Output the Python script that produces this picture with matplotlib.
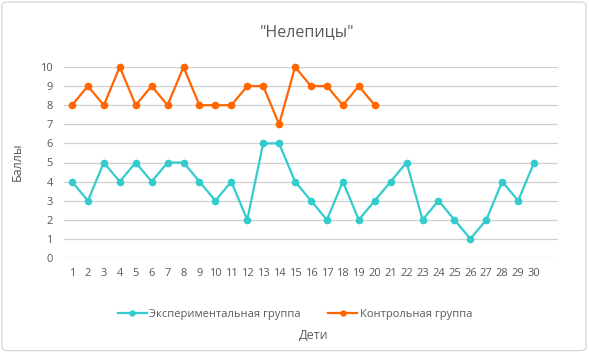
import numpy as np
import matplotlib
matplotlib.use("Agg")
import matplotlib.pyplot as plt
from matplotlib.patches import FancyBboxPatch

plt.rcParams['font.family'] = ['Open Sans', 'DejaVu Sans']

children = list(range(1, 31))
exp_group = [4, 3, 5, 4, 5, 4, 5, 5, 4, 3, 4, 2, 6, 6, 4, 3, 2, 4, 2, 3,
             4, 5, 2, 3, 2, 1, 2, 4, 3, 5]
ctrl_children = list(range(1, 21))
ctrl_group = [8, 9, 8, 10, 8, 9, 8, 10, 8, 8, 8, 9, 9, 7, 10, 9, 9, 8, 9, 8]
yticks = list(range(0, 11))

teal = '#33CCCC'
orange = '#FF6600'
text_col = '#595959'

fig = plt.figure(figsize=(5.89, 3.52), dpi=100)
ax = fig.add_axes([64/589, 1 - 258/352, 494/589, 191/352])

ax.plot(children, exp_group, color=teal, lw=1.6, marker='o', ms=4.5,
        label='Экспериментальная группа', clip_on=False)
ax.plot(ctrl_children, ctrl_group, color=orange, lw=1.6, marker='o', ms=4.5,
        label='Контрольная группа', clip_on=False)

ax.set_xlim(0.5, 31.5)
ax.set_ylim(0, 10)
ax.set_yticks(yticks)
ax.set_xticks(children)
ax.tick_params(length=0, labelsize=8, labelcolor=text_col)
ax.tick_params(axis='x', pad=7)
ax.tick_params(axis='y', pad=8)
ax.grid(axis='y', color='#D0D0D0', lw=0.9)
ax.set_axisbelow(True)
for s in ax.spines.values():
    s.set_visible(False)

fig.text(307/589, 1 - 32/352, '"Нелепицы"', ha='center', va='center',
         fontsize=11.5, color=text_col)
fig.text(17/589, 1 - 162/352, 'Баллы', ha='center', va='center',
         rotation=90, fontsize=9, color=text_col)
fig.text(314/589, 1 - 335/352, 'Дети', ha='center', va='center',
         fontsize=9, color=text_col)

fig.legend(loc='center', bbox_to_anchor=(295/589, 1 - 314/352), ncol=2,
           frameon=False, fontsize=8, labelcolor=text_col,
           handlelength=2.6, handletextpad=0.2, columnspacing=2.5,
           markerscale=0.8)

border = FancyBboxPatch((0.003, 0.004), 0.992, 0.99, transform=fig.transFigure,
                        boxstyle='round,pad=0,rounding_size=0.01',
                        fc='none', ec='#D9D9D9', lw=1)
fig.patches.append(border)

fig.savefig('out.png', dpi=100)
